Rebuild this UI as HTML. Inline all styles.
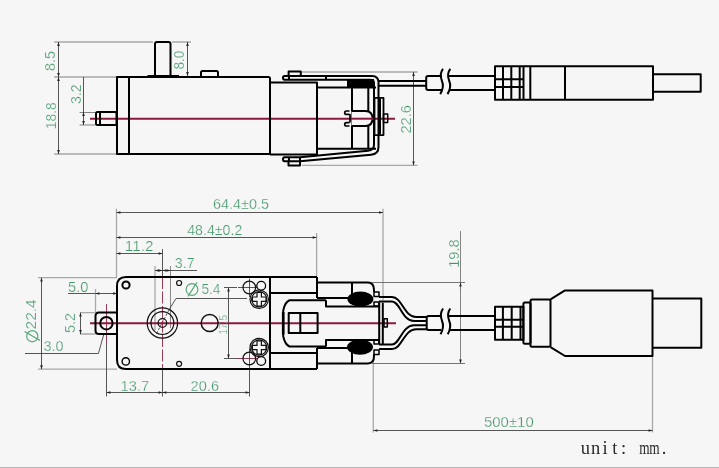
<!DOCTYPE html>
<html><head><meta charset="utf-8">
<style>
html,body{margin:0;padding:0;background:#f7f6f7;}
body{width:719px;height:468px;overflow:hidden;position:relative;}
svg{position:absolute;left:0;top:0;will-change:transform;}
.t{font-family:"Liberation Sans",sans-serif;font-size:13.6px;fill:#45986a;stroke:#f7f6f7;stroke-width:0.25px;}
.ts{font-family:"Liberation Sans",sans-serif;font-size:10px;fill:#55a475;}
.u{font-family:"Liberation Mono",monospace;font-size:15px;fill:#2a2a2a;}
</style></head><body>
<svg width="719" height="468" viewBox="0 0 719 468">
<defs>
<marker id="ar" viewBox="0 0 6 4" refX="6" refY="2" markerWidth="5.5" markerHeight="2.6" orient="auto-start-reverse" markerUnits="userSpaceOnUse"><path d="M0,0 L6,2 L0,4 z" fill="#222"/></marker>
</defs>
<rect x="0" y="467" width="719" height="1" fill="#b8b8b8"/>

<!-- ===== TOP VIEW ===== -->
<!-- extension lines -->
<g stroke="#a8a8a8" stroke-width="1.3" fill="none">
<path d="M54,42H153 M172,42H191 M54,77H117 M54,154H117"/>
<path d="M302,72H417.5 M302,165.3H417.5"/>
</g>
<!-- dimension lines -->
<g stroke="#444" stroke-width="0.9" fill="none">
<path d="M58.5,42V77" marker-start="url(#ar)" marker-end="url(#ar)"/>
<path d="M58.5,77V154" marker-start="url(#ar)" marker-end="url(#ar)"/>
<path d="M187.5,42V76" marker-start="url(#ar)" marker-end="url(#ar)"/>
<path d="M83.5,77V112"/>
<path d="M79.6,112.5H95 M79.6,125H95" stroke="#777"/>
<path d="M83.5,112V125" marker-start="url(#ar)" marker-end="url(#ar)"/>
<path d="M413.5,72V165.3" marker-start="url(#ar)" marker-end="url(#ar)"/>
</g>

<!-- red centre line -->
<path d="M90,118.7H395" stroke="#8a1a3c" stroke-width="2" fill="none"/>

<g stroke="#000" stroke-width="2" fill="none" stroke-linejoin="round">
<!-- shaft -->
<rect x="96" y="112" width="20.5" height="13" rx="1.5"/>
<path d="M100,112V125"/>
<!-- motor body -->
<path d="M117,77H268.5Q270,77 270,78.5V154H117Z"/>
<path d="M129,77V154"/>
<!-- top post -->
<path d="M155,76V44Q155,42 157,42H168.5Q170.5,42 170.5,44V76"/>
<path d="M147.5,76H179"/>
<!-- bump -->
<path d="M201,77V72.5Q201,71 202.5,71H216.5Q218,71 218,72.5V77"/>
<!-- gearbox left section -->
<path d="M270,82.4H317V154.5H270"/>
<!-- right section -->
<path d="M317,87.4H376 M317,148.8H376 M352,87.4V148.8 M368.3,87.4V148.8"/>
<!-- clip outer -->
<path d="M289,76H372Q378.5,76 378.5,82.5V147Q378.5,154 371,154.8L300,161.3"/>
<path d="M289,79.8H370Q374,79.8 374,83V145Q374,150 368,150.7L300,157.3"/>
<path d="M289,76H284.5Q283,76 283,77.8Q283,79.8 284.5,79.8H289 M289,76V79.8 M326,76V79.8"/>
<path d="M288.6,76V71.6H300.8V76"/>
<!-- bottom clip bar -->
<path d="M300,157.3H284.5Q283,157.3 283,159.3Q283,161.3 284.5,161.3H300 M289,157.3V161.3 M288.5,161.3V165.6H300V157.3"/>
<!-- connector U -->
<path d="M351.5,111H365.5Q372.5,111 372.5,118.5Q372.5,126 365.5,126H351.5Z" fill="#f7f6f7" stroke="none"/>
<path d="M351.5,111H365.5Q372.5,111 372.5,118.5Q372.5,126 365.5,126H351.5"/>
<path d="M350,118.7H375" stroke="#8a1a3c"/>
<path d="M349.5,111H346.5Q344.7,111 344.7,112.7Q344.7,114.4 346.5,114.4H349.5 M349.5,122.6H346.5Q344.7,122.6 344.7,124.3Q344.7,126 346.5,126H349.5 M350,114V122.6" stroke-width="1.7"/>
<!-- bar -->
<rect x="374.5" y="97.8" width="9" height="37.3" stroke-width="1.8"/>
<rect x="383.5" y="114" width="4.2" height="8.6" stroke-width="1.5"/>
<!-- wires -->
<path d="M378.5,80.9H426 M378.5,85.7H426"/>
<!-- sleeve -->
<path d="M442,76H428.2Q426.2,76 426.2,78V88Q426.2,90 428.2,90H442"/>
<!-- cable -->
<path d="M449,76H495 M449,90H495"/>
<!-- plug -->
<path d="M495,66.3H653V99.7H495Z"/>
<path d="M503,66.3V99.7 M511.3,66.3V99.7 M519.7,66.3V99.7 M523.5,66.3V99.7 M530.3,66.3V99.7 M565,66.3V99.7 M495,79.2H523.5 M495,87H523.5"/>
<path d="M653,74.2H700.7V91.7H653"/>
</g>
<!-- filled black block -->
<rect x="347" y="79" width="27" height="8.5" fill="#000"/>
<rect x="378" y="98.6" width="3" height="35.7" fill="#000"/>
<!-- break curves top -->
<g stroke="#000" stroke-width="2" fill="none">
<path d="M443,68.9C440,73 440.3,77 441.8,80.5C443.5,84.5 443.5,89 440.2,94.1"/>
<path d="M450.3,68.9C447.3,73 447.6,77 449.1,80.5C450.8,84.5 450.8,89 447.5,94.1"/>
</g>

<!-- ===== BOTTOM VIEW ===== -->
<g stroke="#a8a8a8" stroke-width="1.3" fill="none">
<path d="M116.5,208.7V277 M383,208.7V300 M316.6,233V277"/>
<path d="M162.5,249V277" stroke="#555" stroke-width="1"/>
<path d="M155,266V330"/>
<path d="M170.5,266V328" stroke="#888" stroke-width="1"/>
<path d="M38,277.7H117 M38,369.2H117"/>
<path d="M95.5,289V312.5 M80,312.7H95.5 M80,334H95.5"/>
<path d="M373.3,361V432.6 M652.5,356V432.6"/>
</g>
<g stroke="#444" stroke-width="0.9" fill="none">
<path d="M116.5,212.5H383" marker-start="url(#ar)" marker-end="url(#ar)"/>
<path d="M116.5,237.5H316.6" marker-start="url(#ar)" marker-end="url(#ar)"/>
<path d="M116.5,253.5H162.5" marker-start="url(#ar)" marker-end="url(#ar)"/>
<path d="M155,270.5H162.5" marker-start="url(#ar)" marker-end="url(#ar)"/>
<path d="M162.5,270.5H170.5" marker-start="url(#ar)" marker-end="url(#ar)"/>
<path d="M170.5,270.5H197"/>
<path d="M41.5,277.7V369.2" marker-start="url(#ar)" marker-end="url(#ar)"/>
<path d="M95.5,293.5H117" marker-start="url(#ar)" marker-end="url(#ar)"/>
<path d="M68,293.5H95.5"/>
<path d="M80.5,312.7V334" marker-start="url(#ar)" marker-end="url(#ar)"/>
<path d="M25,353.5H98.4L104,333.6"/>
<path d="M106.5,342V396.5 M162.5,369V396.5 M249.5,369V396.5"/>
<path d="M106.5,392.5H162.5" marker-start="url(#ar)" marker-end="url(#ar)"/>
<path d="M162.5,392.5H249.5" marker-start="url(#ar)" marker-end="url(#ar)"/>
<path d="M228.5,287.5V358.5" marker-start="url(#ar)" marker-end="url(#ar)"/>
<path d="M224,287.5H237 M224,358.5H238"/>
<path d="M460.5,231V363.5" marker-end="url(#ar)" stroke="#777"/>
<path d="M372,282.5H465 M372,363.5H465" stroke="#666"/>
<path d="M460.5,282.5V290" marker-start="url(#ar)" stroke="#777"/>
<path d="M373.5,430.5H652.5" marker-start="url(#ar)" marker-end="url(#ar)"/>
<path d="M169.5,309L176,298.5H247"/>
<path d="M156.5,333.5L169.5,309" stroke-dasharray="2.5,1.5"/>
</g>

<!-- red centre lines -->
<g stroke="#8a1a3c" stroke-width="2" fill="none">
<path d="M90,323.2H396"/>
</g>
<g stroke="#8a1a3c" stroke-width="1" fill="none">
<path d="M106.5,304V342.4" stroke-width="0.85"/>
<path d="M162.5,277V369" stroke-dasharray="12,2.5" stroke-width="0.85"/>
<path d="M238,287.5H257 M249.5,278.5V297 M238,358.5H257 M249.5,348.5V369" stroke="#7a1a3a" stroke-width="0.85"/>
</g>

<g stroke="#000" stroke-width="2" fill="none" stroke-linejoin="round">
<!-- body -->
<path d="M317,277H126Q117,277 117,286V360Q117,369 126,369H317"/>
<path d="M270,277V369"/>
<circle cx="126" cy="285" r="3.6"/>
<circle cx="125.8" cy="361.4" r="3.7" stroke-width="1.4"/>
<!-- tab -->
<path d="M117,312.5H99Q95.5,312.5 95.5,316V330.5Q95.5,334 99,334H117"/>
<circle cx="106.4" cy="323.2" r="6.2"/>
<!-- section1 -->
<path d="M270,293H317 M270,353H317 M317,277V298 M317,348V369"/>
<!-- right section -->
<path d="M317,282.5H368Q374,282.5 374,290V292 M317,298H352 M352,282.5V298"/>
<path d="M317,363.4H368Q374,363.4 374,356V354 M317,348H352 M352,348V363.4"/>
<rect x="374" y="292" width="5" height="4.4" stroke-width="1.5"/>
<rect x="374" y="302" width="5" height="4" stroke-width="1.5"/>
<rect x="374" y="340" width="5" height="4" stroke-width="1.5"/>
<rect x="374" y="350" width="5" height="4.4" stroke-width="1.5"/>
<!-- housing -->
<path d="M326,300.3H289.5Q285,302 283.2,310.6V336.2Q285,344.5 289.5,346.5H326 M326,300.3V306.6H379 M326,346.5V339.9H379"/>
<path d="M283.2,312V334.5" stroke-width="2.6"/>
<path d="M288.7,313H317.6V333H288.7Z M300.3,313V333"/>
<path d="M379.2,302.8V344 M382.8,302.8V344"/>
<rect x="384" y="318.8" width="3.3" height="8.3" stroke-width="1.5"/>
<!-- wires -->
<path d="M379,297H392C402,297 404,317 416,317H427 M379,301.5H392C400,301.5 402,321 414,321H427"/>
<path d="M379,349H392C402,349 404,329.3 416,329.3H427 M379,344.5H392C400,344.5 402,325.3 414,325.3H427"/>
<!-- sleeve -->
<path d="M441,316H428.7Q426.7,316 426.7,318V328.1Q426.7,330.1 428.7,330.1H441"/>
<!-- cable -->
<path d="M449,316.1H495 M449,330.1H495"/>
<!-- plug -->
<path d="M495,306.7H523.4V339.7H495Z M502.9,306.7V339.7 M511.7,306.7V339.7 M520.5,306.7V339.7 M495,319.7H523.4 M495,326.7H523.4"/>
<rect x="523.4" y="302.6" width="7.1" height="41.1" rx="1.5"/>
<rect x="530.5" y="299.6" width="20" height="47.2" rx="1.5"/>
<path d="M550.5,299.4L565,290.4H652.5V356H565L550.5,347.2"/>
<path d="M652.5,298.6H701.3V347.7H652.5"/>
<!-- screws -->
<circle cx="261.2" cy="285.7" r="4.4" stroke-width="1.3"/>
<circle cx="261.2" cy="361" r="4.4" stroke-width="1.3"/>
</g>
<!-- thin circles -->
<g stroke="#111" stroke-width="1.2" fill="none">
<circle cx="162.4" cy="323" r="15.2"/>
<circle cx="162.4" cy="323" r="11.4"/>
<circle cx="162.4" cy="323" r="4.3"/>
<circle cx="209.7" cy="323" r="8.5" stroke-width="1.5"/>
<circle cx="179.1" cy="283" r="2.5"/>
<circle cx="179.1" cy="363.8" r="2.5"/>
<circle cx="249.3" cy="287.5" r="6.3"/>
<circle cx="249.3" cy="358.5" r="6.3"/>
<circle cx="259.2" cy="299.2" r="9.2"/>
<circle cx="259.2" cy="299.2" r="7.6"/>
<circle cx="259.2" cy="347.5" r="9.2"/>
<circle cx="259.2" cy="347.5" r="7.6"/>
<path d="M257,292.5H261.4V297H266V301.4H261.4V306H257V301.4H252.4V297H257Z"/>
<path d="M257,340.8H261.4V345.3H266V349.7H261.4V354.2H257V349.7H252.4V345.3H257Z"/>
</g>
<!-- ellipses -->
<ellipse cx="360.4" cy="299" rx="13" ry="7.6" fill="#000"/>
<ellipse cx="360" cy="347.1" rx="13" ry="7.6" fill="#000"/>
<!-- break curves bottom -->
<g stroke="#000" stroke-width="2" fill="none">
<path d="M443.1,308.5C440.1,312.5 440.4,316.5 441.9,320.5C443.6,324.5 443.6,329 440.5,334.2"/>
<path d="M450.3,308.5C447.3,312.5 447.6,316.5 449.1,320.5C450.8,324.5 450.8,329 447.7,334.2"/>
</g>
<text class="t" style="font-size:14.20px" transform="translate(54.80,60.90) rotate(-90) scale(1.018,1)" text-anchor="middle">8.5</text>
<text class="t" style="font-size:14.20px" transform="translate(55.80,115.70) rotate(-90) scale(0.977,1)" text-anchor="middle">18.8</text>
<text class="t" style="font-size:14.20px" transform="translate(80.80,94.20) rotate(-90) scale(1.001,1)" text-anchor="middle">3.2</text>
<text class="t" style="font-size:14.20px" transform="translate(184.20,60.10) rotate(-90) scale(0.961,1)" text-anchor="middle">8.0</text>
<text class="t" style="font-size:14.20px" transform="translate(411.40,119.30) rotate(-90) scale(1.034,1)" text-anchor="middle">22.6</text>
<text class="t" style="font-size:14.20px" transform="translate(213.00,209.20) scale(1.016,1)">64.4±0.5</text>
<text class="t" style="font-size:14.20px" transform="translate(187.20,234.80) scale(1.001,1)">48.4±0.2</text>
<text class="t" style="font-size:14.20px" transform="translate(124.80,250.60) scale(1.077,1)">11.2</text>
<text class="t" style="font-size:14.20px" transform="translate(174.80,267.80) scale(1.003,1)">3.7</text>
<text class="t" style="font-size:14.20px" transform="translate(68.00,291.80) scale(1.033,1)">5.0</text>
<text class="t" style="font-size:14.20px" transform="translate(75.20,322.90) rotate(-90) scale(1.021,1)" text-anchor="middle">5.2</text>
<text class="t" style="font-size:14.20px" transform="translate(36.40,314.40) rotate(-90) scale(1.087,1)" text-anchor="middle">22.4</text>
<text class="t" style="font-size:14.20px" transform="translate(43.40,350.80) scale(1.018,1)">3.0</text>
<text class="t" style="font-size:14.20px" transform="translate(120.60,390.60) scale(1.036,1)">13.7</text>
<text class="t" style="font-size:14.20px" transform="translate(190.60,390.60) scale(1.030,1)">20.6</text>
<text class="t" style="font-size:14.20px" transform="translate(484.00,427.00) scale(1.052,1)">500±10</text>
<text class="t" style="font-size:14.20px" transform="translate(201.40,294.20) scale(0.970,1)">5.4</text>
<text class="t" style="font-size:14.20px" transform="translate(459.00,253.60) rotate(-90) scale(1.023,1)" text-anchor="middle">19.8</text>
<text class="t" style="font-size:10.00px" transform="translate(227.10,324.70) rotate(-90) scale(1.006,1)" text-anchor="middle">17.5</text>
<g stroke="#55a475" stroke-width="1.15" fill="none">
<circle cx="192" cy="289.5" r="5.9"/>
<path d="M188,296.4L197,282.2"/>
<circle cx="32.3" cy="336.2" r="5.6"/>
<path d="M24.6,331.4L40.1,340.4"/>
</g>
<g style="font-family:'Liberation Serif',serif;font-size:18.5px;fill:#2b2b2b" text-anchor="middle">
<text transform="translate(585.3,454) scale(1,1)">u</text>
<text transform="translate(595.7,454) scale(1,1)">n</text>
<text transform="translate(605.1,454) scale(1,1)">i</text>
<text transform="translate(614.8,454) scale(1,1)">t</text>
<text transform="translate(623.5,454) scale(1,1)">:</text>
<text transform="translate(644.5,454) scale(0.72,1)">m</text>
<text transform="translate(654.5,454) scale(0.72,1)">m</text>
<text transform="translate(664,454) scale(1,1)">.</text>
</g>

</svg>
</body></html>
